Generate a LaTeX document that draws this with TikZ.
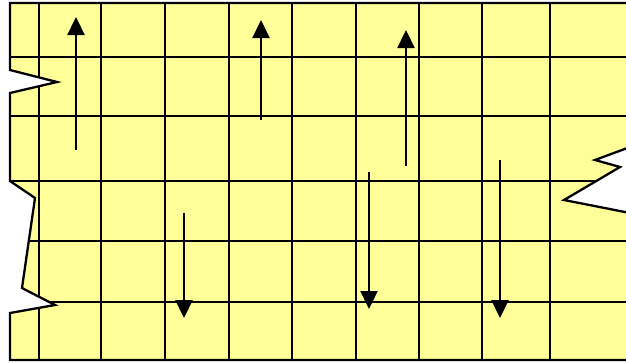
\documentclass[tikz,border=0pt]{standalone}
\usetikzlibrary{arrows.meta}
\definecolor{paper}{RGB}{255,255,153}
\tikzset{
  gridline/.style={line width=2.3pt,black},
  edge/.style={line width=2.3pt,black,line join=miter},
  flow/.style={line width=2.3pt,black,-{Triangle[width=17pt,length=18pt]}}
}
\begin{document}
\begin{tikzpicture}[x=1pt,y=-1pt]
\useasboundingbox (0,0) rectangle (626,362);
\def\sheet{(10,3) -- (630,3) -- (630,147) -- (595,160) -- (620,167) -- (564,200) -- (630,213) -- (630,360) -- (10,360) -- (10,313) -- (55,305) -- (22,288) -- (35,198) -- (10,181) -- (10,93) -- (57,82) -- (10,70) -- cycle}
\fill[paper] \sheet;
\begin{scope}
  \clip \sheet;
  \foreach \x in {39,101,165,229,292,356,419,482,550}
    \draw[gridline] (\x,0) -- (\x,362);
  \foreach \y in {57,116,181,241,302}
    \draw[gridline] (0,\y) -- (630,\y);
\end{scope}
\draw[edge] \sheet;
\coordinate (a1) at (76,150); \coordinate (b1) at (76,17);
\coordinate (a2) at (261,120); \coordinate (b2) at (261,20);
\coordinate (a3) at (406,166); \coordinate (b3) at (406,30);
\coordinate (c1) at (184,213); \coordinate (d1) at (184,318);
\coordinate (c2) at (369,172); \coordinate (d2) at (369,309);
\coordinate (c3) at (500,160); \coordinate (d3) at (500,318);
\draw[flow] (a1) -- (b1);
\draw[flow] (a2) -- (b2);
\draw[flow] (a3) -- (b3);
\draw[flow] (c1) -- (d1);
\draw[flow] (c2) -- (d2);
\draw[flow] (c3) -- (d3);
\end{tikzpicture}
\end{document}
